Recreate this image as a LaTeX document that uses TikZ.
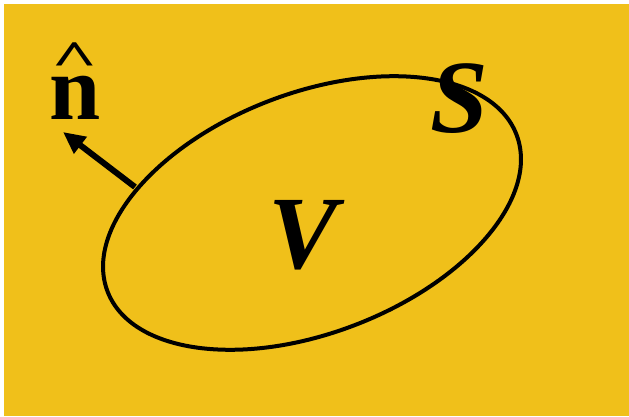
\documentclass[tikz,border=0pt]{standalone}
\usepackage{fontspec}
\setmainfont{Liberation Serif}
\usetikzlibrary{arrows.meta}
\definecolor{bgyellow}{RGB}{240,192,26}
\begin{document}
\begin{tikzpicture}[x=1pt,y=1pt,
  curve/.style={line width=4pt, black},
  normalarrow/.style={line width=6pt, black, -{Triangle[length=22pt,width=20pt]}},
  bigletter/.style={font=\fontsize{104}{104}\selectfont\bfseries\itshape, inner sep=0pt},
  hatletter/.style={font=\fontsize{92}{92}\selectfont\bfseries, inner sep=0pt}]
\useasboundingbox (0,0) rectangle (629,416);
\fill[white] (0,0) rectangle (629,416);
\fill[bgyellow] (4,0) rectangle (629,412);
\draw[curve, rotate around={21:(312,203)}] (312,203) ellipse [x radius=219, y radius=120];
\coordinate (tail) at (135,229);
\coordinate (tip) at (63,284);
\draw[normalarrow] (tail) -- (tip);
\node[hatletter, anchor=base] (nhat) at (75,297)
  {\ooalign{n\cr\hidewidth{\fontsize{50}{50}\selectfont\raisebox{44pt}{\scalebox{1.6}[1]{\textasciicircum}}}\hidewidth\cr}};
\node[bigletter] (S) at (459,317.5) {S};
\node[bigletter] (V) at (303,181) {V};
\end{tikzpicture}
\end{document}
